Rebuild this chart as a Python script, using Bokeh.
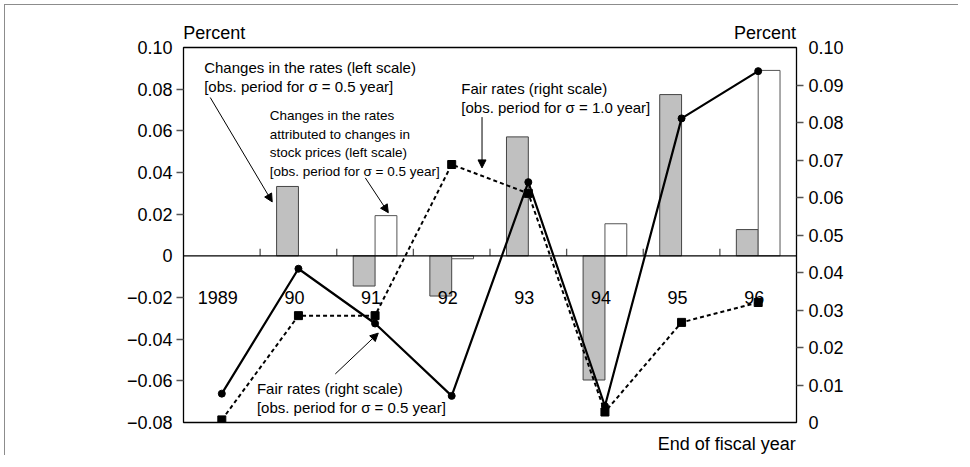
import math
import numpy as np
from bokeh.plotting import figure
from bokeh.models import (Range1d, LinearAxis, FixedTicker, CustomJSTickFormatter,
                          Span, Arrow, NormalHead)
from bokeh.core.properties import value
from bokeh.embed import file_html
from bokeh.resources import INLINE

# ---------------- data ----------------
years = ["1989", "90", "91", "92", "93", "94", "95", "96"]
# Changes in the rates (left scale) [obs. period for sigma = 0.5 year]
chg_rates = [np.nan, 0.0333, -0.0145, -0.0193, 0.0571, -0.0596, 0.0774, 0.0126]
# Changes attributed to changes in stock prices (left scale)
chg_stock = [np.nan, np.nan, 0.0193, -0.0014, np.nan, 0.0154, np.nan, 0.0890]
# Fair rates (right scale) [sigma = 0.5 year]  (solid line)
fair_05 = [0.0077, 0.0410, 0.0264, 0.0071, 0.0641, 0.0044, 0.0811, 0.0937]
# Fair rates (right scale) [sigma = 1.0 year]  (dashed line)
fair_10 = [0.0007, 0.0285, 0.0285, 0.0688, 0.0611, 0.0028, 0.0267, 0.0320]

left_ticks = [-0.08, -0.06, -0.04, -0.02, 0.0, 0.02, 0.04, 0.06, 0.08, 0.10]
right_ticks = [0.0, 0.01, 0.02, 0.03, 0.04, 0.05, 0.06, 0.07, 0.08, 0.09, 0.10]

FONT = "Liberation Sans"
AX_SIZE = "18px"

n = len(years)
xc = np.arange(n) + 0.5
bw = 0.285

p = figure(width=954, height=451, output_backend="svg", toolbar_location=None,
           x_range=Range1d(0, n), y_range=Range1d(-0.08, 0.10),
           min_border_left=178, min_border_right=163, min_border_top=42,
           min_border_bottom=23)
p.styles = {"border-left": "1px solid #8c8c8c", "border-top": "1px solid #8c8c8c",
            "margin-left": "4px", "margin-top": "4px"}
p.xaxis.visible = False
p.yaxis.visible = False
p.xgrid.visible = False
p.ygrid.visible = False
p.outline_line_color = "black"
p.outline_line_width = 1.3
p.background_fill_color = "white"
p.border_fill_color = "white"

p.extra_y_ranges = {"right": Range1d(0, 0.10)}

fmt = CustomJSTickFormatter(code="""
if (Math.abs(tick) < 1e-9) return "0";
if (tick < 0) return "\u2212" + (-tick).toFixed(2);
return tick.toFixed(2);
""")

la = LinearAxis(ticker=FixedTicker(ticks=left_ticks,
                                   minor_ticks=[-0.06, -0.04, -0.02, 0.02, 0.04, 0.06, 0.08]),
                formatter=fmt)
ra = LinearAxis(y_range_name="right",
                ticker=FixedTicker(ticks=right_ticks, minor_ticks=right_ticks[1:-1]),
                formatter=fmt)
for ax, so in ((la, 4), (ra, 5)):
    ax.axis_line_color = None
    ax.major_tick_out = 0
    ax.major_tick_in = 0
    ax.minor_tick_out = 7
    ax.minor_tick_in = 0
    ax.minor_tick_line_color = "#555555"
    ax.minor_tick_line_width = 1.3
    ax.major_label_standoff = so
    ax.major_label_text_font = FONT
    ax.major_label_text_font_size = AX_SIZE
    ax.major_label_text_color = "black"
p.add_layout(la, "left")
p.add_layout(ra, "right")

# axis titles as tick labels of text-only axes
top_ax = LinearAxis(ticker=FixedTicker(ticks=[0.40, 7.59]),
                    formatter=CustomJSTickFormatter(code='return "Percent";'))
bot_ax = LinearAxis(ticker=FixedTicker(ticks=[7.09]),
                    formatter=CustomJSTickFormatter(code='return "End of fiscal year";'))
for ax, so in ((top_ax, 5), (bot_ax, 11)):
    ax.axis_line_color = None
    ax.major_tick_line_color = None
    ax.minor_tick_line_color = None
    ax.major_tick_out = 0
    ax.major_tick_in = 0
    ax.major_label_standoff = so
    ax.major_label_text_font = FONT
    ax.major_label_text_font_size = AX_SIZE
    ax.major_label_text_color = "black"
p.add_layout(top_ax, "above")
p.add_layout(bot_ax, "below")

# bars
p.vbar(x=xc - bw / 2, width=bw, bottom=0, top=chg_rates,
       fill_color="#c0c0c0", line_color="#444444", line_width=1)
p.vbar(x=xc + bw / 2, width=bw, bottom=0, top=chg_stock,
       fill_color="white", line_color="#555555", line_width=1)

# zero line
p.add_layout(Span(location=0, dimension="width", line_color="black", line_width=1.3))

# category boundary ticks on the zero line
p.ray(x=np.arange(1, n), y=0, length=7, length_units="screen",
      angle=math.pi / 2, line_color="#555555", line_width=1.3)

# category labels
p.text(x=xc, y=-0.02, text=years, text_align="center", text_baseline="middle",
       x_offset=-4, text_font=value(FONT), text_font_size=AX_SIZE, text_color="black")

# lines
p.line(xc, fair_10, y_range_name="right", line_color="black", line_width=2,
       line_dash="4 3")
p.scatter(xc, fair_10, y_range_name="right", marker="square", size=8,
          fill_color="black", line_color="black")
p.line(xc, fair_05, y_range_name="right", line_color="black", line_width=2.2)
p.scatter(xc, fair_05, y_range_name="right", marker="circle", size=7,
          fill_color="black", line_color="black")

# annotations
notes = [
    (0.27, 0.0943, "Changes in the rates (left scale)\n[obs. period for \u03c3 = 0.5 year]"),
    (3.626, 0.0842, "Fair rates (right scale)\n[obs. period for \u03c3 = 1.0 year]"),
    (0.958, -0.0594, "Fair rates (right scale)\n[obs. period for \u03c3 = 0.5 year]"),
]
p.text(x=[a[0] for a in notes], y=[a[1] for a in notes], text=[a[2] for a in notes],
       text_align="left", text_baseline="top", text_line_height=1.12,
       text_font=value(FONT), text_font_size="15px", text_color="black")
p.text(x=[1.125], y=[0.0708],
       text=["Changes in the rates\nattributed to changes in\nstock prices (left scale)\n[obs. period for \u03c3 = 0.5 year]"],
       text_align="left", text_baseline="top", text_line_height=1.23,
       text_font=value(FONT), text_font_size="13.5px", text_color="black")

arrows = [
    (0.349, 0.0760, 1.158, 0.0259),
    (2.373, 0.0374, 2.673, 0.0207),
    (3.896, 0.0666, 3.896, 0.0422),
    (1.981, -0.0567, 2.542, -0.0371),
]
for x0, y0, x1, y1 in arrows:
    p.add_layout(Arrow(x_start=x0, y_start=y0, x_end=x1, y_end=y1,
                       line_color="black", line_width=1,
                       end=NormalHead(size=8, fill_color="black", line_color="black")))

open("out.html", "w").write(file_html(p, INLINE))
